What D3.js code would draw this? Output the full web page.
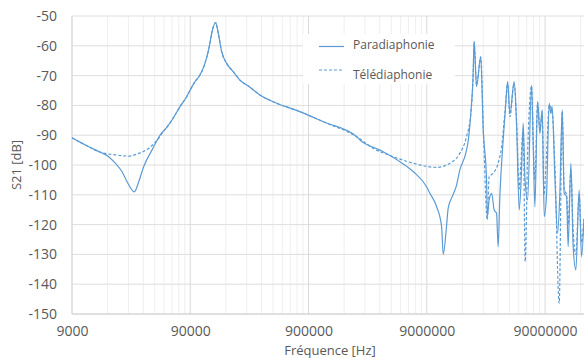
<!DOCTYPE html>
<html>
<head>
<meta charset="utf-8">
<script src="https://cdn.jsdelivr.net/npm/d3@7"></script>
<style>
  html, body { margin: 0; padding: 0; background: #ffffff; }
  svg { display: block; }
  text { font-family: "Open Sans", "DejaVu Sans", sans-serif; fill: #595959; }
</style>
</head>
<body>
<svg id="chart" width="584" height="358"></svg>
<script>
// Frequency response S21 [dB] versus frequency [Hz]
const seriesNames = ["Paradiaphonie", "Télédiaphonie"];

// Near-end crosstalk (solid line): [frequency Hz, S21 dB]
const paradiaphonie = [
  [9000, -90.9], [11670, -93.3], [15600, -95.7], [18400, -97.2], [20900, -99.4],
  [23800, -102.2], [26300, -105.6], [30300, -109], [33000, -105.6], [36300, -100.6],
  [42700, -95], [50200, -89.9], [56900, -87.4], [63000, -84.9], [73700, -80.4],
  [83900, -77.1], [90000, -74.8], [98600, -72], [108700, -69.8], [119800, -65.9],
  [130300, -60.3], [136500, -55.8], [147500, -52.2], [155300, -55.8], [165900, -62],
  [182800, -65.9], [207900, -68.7], [236800, -71.5], [287600, -73.9], [349200, -76.5],
  [452800, -78.8], [761000, -82.1], [1.2e6, -85.5], [2.3e6, -90.5], [2.45e6, -91.6],
  [3.61e6, -95], [5.33e6, -98.9], [6.9e6, -102.2], [8.96e6, -107.3], [9.56e6, -109.5],
  [1.09e7, -114], [1.2e7, -120.7], [1.24e7, -130], [1.32e7, -120.7], [1.365e7, -114.5],
  [1.5e7, -110], [1.6e7, -107], [1.71e7, -101.7], [1.92e7, -96.1], [2.02e7, -91.6],
  [2.12e7, -82.7], [2.22e7, -69.2], [2.26e7, -58.6], [2.37e7, -73.7], [2.57e7, -63.7],
  [2.70e7, -88.3], [2.88e7, -105], [2.92e7, -117.3], [3.03e7, -111.7], [3.18e7, -109.5],
  [3.34e7, -115.1], [3.50e7, -116.2], [3.61e7, -127.4], [3.73e7, -110.6], [3.98e7, -91.6],
  [4.17e7, -80.4], [4.34e7, -72], [4.54e7, -82.7], [4.93e7, -72], [5.17e7, -87.1],
  [5.44e7, -115.1], [5.69e7, -101.7], [5.88e7, -86], [6.07e7, -103.9], [6.4e7, -111.7],
  [6.92e7, -73.2], [7.14e7, -92.7], [7.38e7, -114], [7.78e7, -78.7], [8.14e7, -89.4],
  [8.51e7, -81.5], [8.85e7, -117.3], [9.27e7, -109.5], [9.75e7, -79.3], [1.007e8, -82.7],
  [1.033e8, -80.4], [1.089e8, -103.9], [1.148e8, -122.9], [1.2e8, -109.5], [1.256e8, -81.5],
  [1.306e8, -109.5], [1.368e8, -110.6], [1.41e8, -127.4], [1.487e8, -99.4], [1.555e8, -127.4],
  [1.639e8, -135.2], [1.747e8, -108.4], [1.831e8, -130.8], [1.915e8, -118.4]
];

// Far-end crosstalk (dashed line): [frequency Hz, S21 dB]
const telediaphonie = [
  [9000, -90.9], [11670, -93.3], [15600, -95.7], [20900, -96.6], [27100, -97],
  [33000, -96.1], [40100, -94.4], [48700, -91], [51900, -89.4], [56900, -87.4],
  [63000, -84.9], [73700, -80.4], [83900, -77.1], [90000, -74.8], [98600, -72],
  [108700, -69.8], [119800, -65.9], [130300, -60.3], [136500, -55.8], [147500, -52.2],
  [155300, -55.8], [165900, -62], [182800, -65.9], [207900, -68.7], [236800, -71.5],
  [287600, -73.9], [349200, -76.5], [452800, -78.8], [761000, -82.1], [1.2e6, -85.5],
  [2.3e6, -90.5], [3.17e6, -94.4], [4.68e6, -97.2], [6.9e6, -99.4], [1.09e7, -100.8],
  [1.41e7, -99.4], [1.71e7, -96.1], [1.95e7, -90.5], [2.12e7, -82.7], [2.22e7, -69.2],
  [2.26e7, -58.6], [2.37e7, -73], [2.57e7, -63.7], [2.735e7, -93.9], [2.92e7, -118.4],
  [3.03e7, -103.9], [3.28e7, -102.8], [3.61e7, -99.4], [3.86e7, -93.9], [4.11e7, -82.7],
  [4.34e7, -73], [4.54e7, -83.8], [4.93e7, -72.5], [5.17e7, -85], [5.44e7, -108],
  [5.61e7, -100], [5.88e7, -88], [6.11e7, -132.4], [6.4e7, -97], [6.92e7, -73.5],
  [7.14e7, -92], [7.38e7, -105], [7.78e7, -79], [8.14e7, -88], [8.51e7, -82],
  [8.79e7, -110], [9.27e7, -96], [9.75e7, -80], [1.033e8, -82], [1.089e8, -100],
  [1.184e8, -146.4], [1.256e8, -82], [1.306e8, -108], [1.368e8, -110], [1.41e8, -120],
  [1.487e8, -102], [1.555e8, -122], [1.639e8, -130], [1.747e8, -110], [1.831e8, -126],
  [1.915e8, -118]
];

// Axis tick values
const xMajorTicks = [9000, 90000, 900000, 9000000, 90000000];
const yTicks = [-50, -60, -70, -80, -90, -100, -110, -120, -130, -140, -150];
const xDomain = [9000, 1.92e8];
const yDomain = [-150, -50];

const svg = d3.select("#chart");
const margin = { left: 72, right: 0, top: 16, bottom: 44 };
const W = 584, H = 358;

const x = d3.scaleLog().domain(xDomain).range([margin.left, W - margin.right]);
const y = d3.scaleLinear().domain(yDomain).range([H - margin.bottom, margin.top]);

// Minor log grid: multiples 2..9 of each decade start
const xMinor = [];
xMajorTicks.concat([900000000]).forEach(d => {
  for (let k = 2; k <= 9; k++) {
    const v = d * k;
    if (v < xDomain[1]) xMinor.push(v);
  }
});

const grid = svg.append("g");
grid.selectAll("line.minor").data(xMinor).join("line")
  .attr("x1", d => x(d)).attr("x2", d => x(d))
  .attr("y1", y(-50)).attr("y2", y(-150))
  .attr("stroke", "#efefef").attr("stroke-width", 1);
grid.selectAll("line.hgrid").data(yTicks).join("line")
  .attr("x1", margin.left).attr("x2", W)
  .attr("y1", d => y(d)).attr("y2", d => y(d))
  .attr("stroke", "#dedede").attr("stroke-width", 1);
grid.selectAll("line.major").data(xMajorTicks).join("line")
  .attr("x1", d => x(d)).attr("x2", d => x(d))
  .attr("y1", y(-50)).attr("y2", y(-150))
  .attr("stroke", "#d9d9d9").attr("stroke-width", 1);

// Axis lines
svg.append("line").attr("x1", margin.left).attr("x2", W)
  .attr("y1", y(-150)).attr("y2", y(-150)).attr("stroke", "#d0d0d0");
svg.append("line").attr("x1", margin.left).attr("x2", margin.left)
  .attr("y1", y(-50)).attr("y2", y(-150)).attr("stroke", "#d9d9d9");

// Tick labels via d3 axes
const yAxis = d3.axisLeft(y).tickValues(yTicks).tickFormat(d => String(d)).tickSize(0).tickPadding(15);
svg.append("g").attr("transform", `translate(${margin.left},0)`).call(yAxis)
  .call(g => g.select(".domain").remove())
  .selectAll("text").attr("font-size", 14).attr("fill", "#595959")
  .attr("font-family", "'Open Sans', sans-serif");

const xAxis = d3.axisBottom(x).tickValues(xMajorTicks).tickFormat(d => String(d)).tickSize(0).tickPadding(12);
svg.append("g").attr("transform", `translate(0,${y(-150)})`).call(xAxis)
  .call(g => g.select(".domain").remove())
  .selectAll("text").attr("font-size", 14).attr("fill", "#595959")
  .attr("font-family", "'Open Sans', sans-serif");

// Axis titles
svg.append("text").attr("x", 330).attr("y", 355).attr("text-anchor", "middle")
  .attr("font-size", 13).text("Fréquence [Hz]");
svg.append("text").attr("transform", `translate(21,${(y(-50) + y(-150)) / 2}) rotate(-90)`)
  .attr("text-anchor", "middle").attr("font-size", 13).text("S21 [dB]");

// Curves
svg.append("clipPath").attr("id", "plotclip").append("rect")
  .attr("x", margin.left).attr("y", 0).attr("width", W - margin.left).attr("height", H);
const line = d3.line().x(d => x(d[0])).y(d => y(d[1])).curve(d3.curveMonotoneX);
const color = "#5b9bd5";
const plot = svg.append("g").attr("clip-path", "url(#plotclip)");
plot.append("path").datum(telediaphonie).attr("d", line)
  .attr("fill", "none").attr("stroke", color).attr("stroke-width", 1.2)
  .attr("stroke-dasharray", "3,2");
plot.append("path").datum(paradiaphonie).attr("d", line)
  .attr("fill", "none").attr("stroke", color).attr("stroke-width", 1.2);

// Legend
const legend = svg.append("g");
legend.append("rect").attr("x", 303).attr("y", 34).attr("width", 152).attr("height", 50)
  .attr("fill", "#ffffff");
const entries = [
  { name: seriesNames[0], dash: null, ly: 46.5, ty: 48.5 },
  { name: seriesNames[1], dash: "3,2", ly: 70, ty: 79 }
];
entries.forEach(e => {
  legend.append("line").attr("x1", 319).attr("x2", 344).attr("y1", e.ly).attr("y2", e.ly)
    .attr("stroke", color).attr("stroke-width", 1.2)
    .attr("stroke-dasharray", e.dash);
  legend.append("text").attr("x", 353).attr("y", e.ty).attr("font-size", 12)
    .attr("fill", "#404040").text(e.name);
});
</script>
</body>
</html>
